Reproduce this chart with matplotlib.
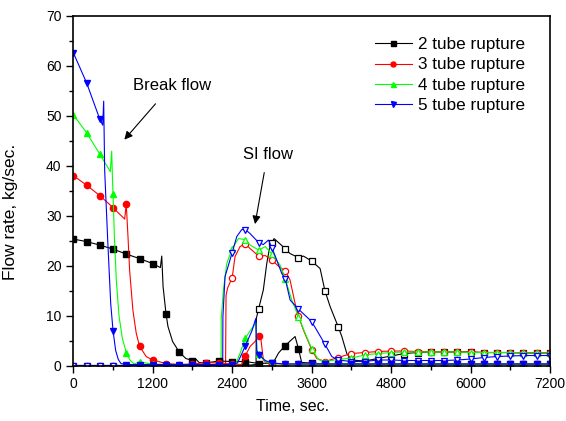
import numpy as np
import matplotlib
matplotlib.use("Agg")
import matplotlib.pyplot as plt
from matplotlib.ticker import MultipleLocator

plt.rcParams['font.family'] = ['Liberation Sans', 'DejaVu Sans']

# break flow (filled markers)
b2_t = [0, 200, 400, 600, 800, 1000, 1200, 1315, 1336, 1356, 1400, 1430, 1500, 1600, 1700, 1800, 1850,
        1900, 2000, 2200, 2400, 2600, 2800, 3000, 3022, 3100, 3200, 3350, 3400, 3450, 3600, 3800, 4000,
        4200, 4400, 4600, 4800, 5000, 5200, 5400, 5600, 5800, 6000, 6200, 6400, 6600, 6800, 7000, 7200]
b2_v = [25.3, 24.8, 24.1, 23.3, 22.3, 21.4, 20.4, 19.6, 21.9, 15.8, 10.4, 7.8, 4.8, 2.7, 1.4, 1.0, 1.3,
        0.6, 0.5, 0.9, 0.8, 0.8, 0.4, 0.5, 0.6, 2.5, 4.0, 5.8, 3.4, 0.6, 0.5, 0.3, 0.3,
        0.3, 0.3, 0.3, 0.3, 0.3, 0.3, 0.3, 0.3, 0.3, 0.3, 0.3, 0.3, 0.3, 0.3, 0.3, 0.3]

b3_t = [0, 200, 400, 600, 776, 800, 826, 851, 900, 950, 1000, 1100, 1200, 1400, 1600, 1800, 2000,
        2200, 2400, 2544, 2600, 2670, 2745, 2800, 2830, 2871, 2900, 3000, 3200, 3400, 3600, 3800, 4000,
        4200, 4400, 4600, 4800, 5000, 5200, 5400, 5600, 5800, 6000, 6200, 6400, 6600, 6800, 7000, 7200]
b3_v = [38.0, 36.1, 34.0, 31.6, 29.3, 32.3, 25.8, 19.0, 11.1, 6.5, 3.9, 1.8, 1.1, 0.4, 0.2, 0.3, 0.6,
        0.5, 0.3, 0.2, 2.0, 3.8, 4.8, 5.9, 5.7, 1.1, 0.7, 0.4, 0.3, 0.3, 0.3, 0.3, 0.3,
        0.3, 0.3, 0.3, 0.3, 0.3, 0.3, 0.3, 0.3, 0.3, 0.3, 0.3, 0.3, 0.3, 0.3, 0.3, 0.3]

b4_t = [0, 200, 400, 559, 580, 590, 600, 620, 650, 690, 740, 800, 860, 920, 1000, 1200, 1400, 1600,
        1800, 2000, 2200, 2400, 2460, 2520, 2600, 2700, 2760, 2775, 2800, 2900, 3000, 3200, 3400, 3600,
        3800, 4000, 4200, 4400, 4600, 4800, 5000, 5200, 5400, 5600, 5800, 6000, 6200, 6400, 6600, 6800,
        7000, 7200]
b4_v = [50.2, 46.6, 42.3, 38.8, 42.9, 38.0, 34.4, 26.0, 17.0, 10.0, 5.5, 2.6, 1.0, 0.3, 0.7, 0.3, 0.2, 0.2,
        0.2, 0.2, 0.2, 0.2, 0.5, 2.5, 5.5, 7.5, 8.5, 3.0, 2.3, 0.8, 0.4, 0.3, 0.3, 0.3,
        0.3, 0.3, 0.3, 0.3, 0.3, 0.3, 0.3, 0.3, 0.3, 0.3, 0.3, 0.3, 0.3, 0.3, 0.3, 0.3,
        0.3, 0.3]

b5_t = [0, 200, 400, 444, 459, 474, 520, 565, 600, 640, 680, 720, 800, 1000, 1200, 1400, 1600, 1800,
        2000, 2200, 2400, 2480, 2550, 2600, 2700, 2756, 2770, 2800, 2900, 3000, 3200, 3400, 3600, 3800,
        4000, 4200, 4400, 4600, 4800, 5000, 5200, 5400, 5600, 5800, 6000, 6200, 6400, 6600, 6800, 7000,
        7200]
b5_v = [62.6, 56.6, 49.3, 48.1, 52.9, 39.0, 25.0, 12.4, 7.0, 3.0, 1.2, 0.4, 0.2, 0.2, 0.2, 0.2, 0.2, 0.2,
        0.2, 0.2, 0.2, 0.5, 2.5, 4.0, 7.0, 9.4, 3.0, 2.2, 1.0, 0.5, 0.3, 0.3, 0.3, 0.3,
        0.3, 0.3, 0.3, 0.3, 0.3, 0.3, 0.3, 0.3, 0.3, 0.3, 0.3, 0.3, 0.3, 0.3, 0.3, 0.3,
        0.3]

# SI flow (open markers)
s2_t = [0, 200, 400, 600, 800, 1000, 1200, 1400, 1600, 1800, 2000, 2200, 2400, 2600, 2760, 2766, 2800,
        2870, 2922, 2962, 3000, 3032, 3100, 3200, 3274, 3400, 3476, 3600, 3728, 3800, 3879, 4000, 4056,
        4131, 4200, 4400, 4600, 4800, 5000, 5200, 5400, 5600, 5800, 6000, 6200, 6400, 6600, 6800, 7000,
        7200]
s2_v = [0, 0, 0, 0, 0, 0, 0, 0, 0, 0, 0, 0, 0, 0, 0.2, 9.5, 11.4,
        15.1, 20.4, 23.4, 24.5, 25.4, 24.6, 23.4, 22.4, 21.6, 21.9, 20.9, 19.4, 15.0, 11.8, 7.8, 5.8,
        2.4, 1.1, 0.9, 1.4, 1.9, 2.4, 2.6, 2.7, 2.7, 2.7, 2.7, 2.6, 2.6, 2.6, 2.5, 2.5,
        2.5]

s3_t = [0, 200, 400, 600, 800, 1000, 1200, 1400, 1600, 1800, 2000, 2200, 2300, 2307, 2330, 2400, 2443,
        2519, 2600, 2670, 2800, 2900, 3000, 3123, 3200, 3274, 3350, 3400, 3476, 3600, 3678, 3800, 4000,
        4200, 4400, 4600, 4800, 5000, 5200, 5400, 5600, 5800, 6000, 6200, 6400, 6600, 6800, 7000, 7200]
s3_v = [0, 0, 0, 0, 0, 0, 0, 0, 0, 0, 0, 0, 0.1, 14.0, 15.5, 17.6, 21.8,
        23.8, 24.4, 23.4, 21.9, 22.0, 21.1, 19.6, 19.0, 17.1, 12.4, 9.9, 7.1, 3.2, 1.4, 0.8, 1.6,
        2.4, 2.6, 2.8, 2.9, 2.9, 2.8, 2.8, 2.7, 2.7, 2.7, 2.6, 2.6, 2.6, 2.5, 2.5, 2.5]

s4_t = [0, 200, 400, 600, 800, 1000, 1200, 1400, 1600, 1800, 2000, 2200, 2232, 2235, 2267, 2318, 2400,
        2494, 2600, 2670, 2800, 2900, 3000, 3123, 3200, 3300, 3400, 3500, 3600, 3700, 3800, 4000, 4200,
        4400, 4600, 4800, 5000, 5200, 5400, 5600, 5800, 6000, 6200, 6400, 6600, 6800, 7000, 7200]
s4_v = [0, 0, 0, 0, 0, 0, 0, 0, 0, 0, 0, 0, 0.2, 9.5, 15.1, 20.4, 23.4,
        25.4, 25.2, 24.1, 23.1, 23.8, 22.3, 20.1, 17.4, 13.1, 9.8, 6.5, 3.4, 1.2, 0.8, 1.2, 1.5,
        2.1, 2.4, 2.6, 2.7, 2.7, 2.7, 2.7, 2.7, 2.6, 2.6, 2.6, 2.6, 2.5, 2.5, 2.5]

s5_t = [0, 200, 400, 600, 800, 1000, 1200, 1400, 1600, 1800, 2000, 2200, 2257, 2260, 2292, 2400, 2469,
        2544, 2600, 2670, 2800, 2870, 2947, 3000, 3073, 3149, 3200, 3275, 3400, 3600, 3800, 3904, 4000,
        4200, 4400, 4600, 4800, 5000, 5200, 5400, 5600, 5800, 6000, 6200, 6400, 6600, 6800, 7000, 7200]
s5_v = [0, 0, 0, 0, 0, 0, 0, 0, 0, 0, 0, 0, 0.2, 9.8, 17.8, 22.6, 25.8,
        27.2, 27.2, 26.4, 24.6, 24.2, 25.1, 23.6, 21.1, 18.4, 17.4, 13.1, 11.3, 8.8, 4.3, 1.8, 1.1,
        0.8, 0.8, 1.1, 1.1, 1.0, 1.0, 1.0, 1.0, 1.1, 1.3, 1.6, 1.8, 1.9, 2.0, 2.0, 2.0]

labels = ["2 tube rupture", "3 tube rupture", "4 tube rupture", "5 tube rupture"]
colors = ["black", "#ff0000", "#00ff00", "#0000ff"]
markers = ["s", "o", "^", "v"]

fig = plt.figure(figsize=(5.66, 4.21), dpi=100)
ax = fig.add_axes([0.1295, 0.1318, 0.8422, 0.8309])


def on_grid(t):
    return [i for i, x in enumerate(t) if x % 200 == 0]


si = [(s2_t, s2_v), (s3_t, s3_v), (s4_t, s4_v), (s5_t, s5_v)]
brk = [(b2_t, b2_v), (b3_t, b3_v), (b4_t, b4_v), (b5_t, b5_v)]

for (t, v), c, m in zip(si, colors, markers):
    ax.plot(t, v, color=c, lw=0.8, marker=m, ms=4.5, mfc="white", mec=c, mew=0.9,
            markevery=on_grid(t))

for (t, v), c, m, lab in zip(brk, colors, markers, labels):
    ax.plot(t, v, color=c, lw=0.8, marker=m, ms=4.5, mfc=c, mec=c,
            markevery=on_grid(t), label=lab)

ax.set_xlim(0, 7200)
ax.set_ylim(0, 70)
ax.xaxis.set_major_locator(MultipleLocator(1200))
ax.xaxis.set_minor_locator(MultipleLocator(600))
ax.yaxis.set_major_locator(MultipleLocator(10))
ax.yaxis.set_minor_locator(MultipleLocator(5))
ax.tick_params(which="major", direction="out", length=5, width=1, labelsize=10)
ax.tick_params(which="minor", direction="out", length=3, width=1)
for s in ax.spines.values():
    s.set_linewidth(1.2)

ax.set_xlabel("Time, sec.", fontsize=11.5, labelpad=9)
ax.xaxis.set_label_coords(0.46, -0.095)
fig.text(0.019, 0.497, "Flow rate, kg/sec.", rotation=90, fontsize=12.5, ha="center", va="center")

leg = ax.legend(loc="upper left", bbox_to_anchor=(0.6, 0.982), frameon=False, fontsize=12.3,
                handlelength=2.2, handletextpad=0.35, markerscale=0.8, labelspacing=0.3)

ax.annotate("Break flow", xy=(771, 45.2), xytext=(1487, 56.1), fontsize=12, ha="center", va="center",
            arrowprops=dict(arrowstyle="-|>", color="black", lw=0.8, shrinkA=8, shrinkB=0))
ax.annotate("SI flow", xy=(2745, 28.3), xytext=(2934, 42.3), fontsize=12, ha="center", va="center",
            arrowprops=dict(arrowstyle="-|>", color="black", lw=0.8, shrinkA=6, shrinkB=0))

fig.savefig("out.png", dpi=100)
